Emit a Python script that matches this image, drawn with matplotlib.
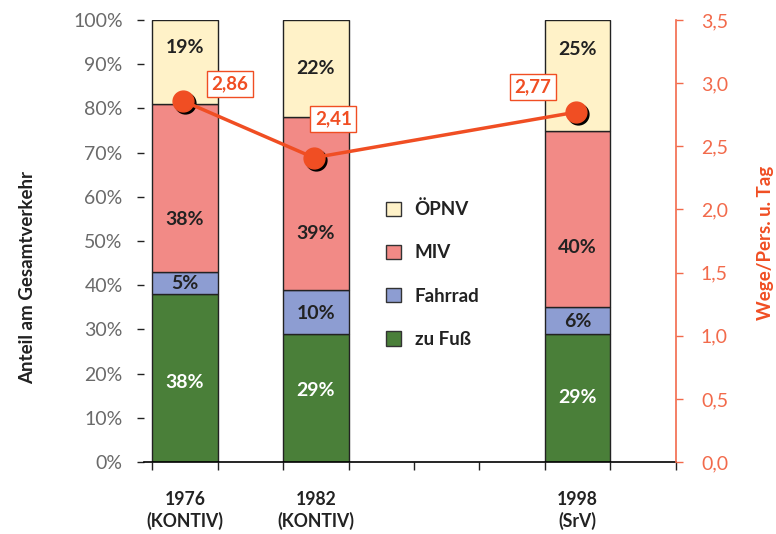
import numpy as np
import matplotlib
matplotlib.use("Agg")
import matplotlib.pyplot as plt
from matplotlib.patches import Patch
import matplotlib.transforms as mtransforms

plt.rcParams['font.family'] = ['Lato', 'DejaVu Sans']

#%% data
jahre = ["1976\n(KONTIV)", "1982\n(KONTIV)", "1998\n(SrV)"]
pos = [0.5, 2.5, 6.5]
fuss = [38, 29, 29]
fahrrad = [5, 10, 6]
miv = [38, 39, 40]
oepnv = [19, 22, 25]
wege = [2.86, 2.41, 2.77]

c_fuss = '#4a7f39'
c_rad = '#8d9dd2'
c_miv = '#f28a86'
c_oepnv = '#fff2c8'
c_rot = '#f04e23'
c_achse = '#f26a4b'

#%% figure
fig = plt.figure(figsize=(7.76, 5.34), dpi=100)
ax = fig.add_axes([0.185, 0.1348, 0.686, 0.8277])

unten = np.zeros(3)
for werte, farbe in [(fuss, c_fuss), (fahrrad, c_rad), (miv, c_miv), (oepnv, c_oepnv)]:
    ax.bar(pos, werte, bottom=unten, width=1.0, color=farbe,
           edgecolor='#222222', linewidth=1.0, zorder=2)
    unten += np.array(werte)

# prozent labels (hoehe der beschriftung im balken, in %)
label_y = [[17.9, 16.1, 14.7], [40.5, 33.7, 31.7], [54.8, 51.8, 48.6], [93.7, 89.1, 93.4]]
for werte, ly, tc in zip([fuss, fahrrad, miv, oepnv], label_y,
                         ['white', '#222222', '#222222', '#222222']):
    for i in range(3):
        ax.text(pos[i], ly[i], f"{werte[i]}%", ha='center', va='center',
                fontsize=14, fontweight='bold', color=tc, zorder=3)

ax.set_xlim(-0.13, 8)
ax.set_ylim(0, 100)
ax.set_yticks(np.arange(0, 101, 10))
ax.set_yticklabels([f"{v}%" for v in range(0, 101, 10)])
ax.set_xticks(np.arange(0, 9, 1))
ax.set_xticklabels([])
ax.tick_params(axis='y', length=5, width=1, colors='#222222', labelcolor='#6a6a6a',
               labelsize=14, pad=10)
ax.tick_params(axis='x', length=6, width=1, colors='#222222')
ax.spines['left'].set_visible(False)
ax.spines['top'].set_visible(False)
ax.spines['right'].set_visible(False)
ax.spines['bottom'].set_linewidth(1.2)

for p, t in zip(pos, jahre):
    ax.text(p, -6.6, t, ha='center', va='top', fontsize=12.7, fontweight='bold',
            color='#222222', linespacing=1.25)

fig.text(28 / 776, 1 - 277 / 534, "Anteil am Gesamtverkehr", rotation=90,
         ha='center', va='center', fontsize=13.5, fontweight='bold', color='#222222')

# legende
handles = [Patch(facecolor=c, edgecolor='#333333', linewidth=1.0)
           for c in [c_oepnv, c_miv, c_rad, c_fuss]]
leg = ax.legend(handles, ["ÖPNV", "MIV", "Fahrrad", "zu Fuß"], loc='center left',
                bbox_to_anchor=(0.423, 0.425), frameon=False, fontsize=13.5,
                labelspacing=1.4, handlelength=0.8, handleheight=0.8, handletextpad=0.75)
for t in leg.get_texts():
    t.set_fontweight('bold')
    t.set_color('#222222')

#%% rechte achse
ax2 = ax.twinx()
ax2.set_ylim(0, 3.5)
ax2.set_yticks(np.arange(0, 3.51, 0.5))
ax2.set_yticklabels([f"{v:.1f}".replace('.', ',') for v in np.arange(0, 3.51, 0.5)])
for s in ['left', 'top', 'bottom']:
    ax2.spines[s].set_visible(False)
ax2.spines['right'].set_color(c_achse)
ax2.spines['right'].set_linewidth(1.2)
ax2.tick_params(axis='y', length=5, width=1, colors=c_achse, labelsize=14, pad=13)

fig.text(765 / 776, 1 - 243 / 534, "Wege/Pers. u. Tag", rotation=90,
         ha='center', va='center', fontsize=13.5, fontweight='bold', color=c_rot)

lx = np.array(pos) - 0.03
schatten = mtransforms.offset_copy(ax2.transData, fig=fig, x=2, y=-2, units='dots')
ax2.plot(lx, wege, 'o', color='black', markersize=15, transform=schatten, zorder=4)
ax2.plot(lx, wege, '-o', color=c_rot, linewidth=2.5, markersize=15, zorder=5)

offsets = [(34, 12), (14, 28), (-31, 18)]
for x, w, off in zip(lx, wege, offsets):
    ax2.annotate(f"{w:.2f}".replace('.', ','), (x, w), xytext=off, textcoords='offset points',
                 ha='center', va='center', fontsize=13.5, fontweight='bold', color=c_rot,
                 bbox=dict(boxstyle='square,pad=0.25', facecolor='white', edgecolor=c_rot,
                           linewidth=1.0), zorder=6)

fig.savefig("out.png", dpi=100)
